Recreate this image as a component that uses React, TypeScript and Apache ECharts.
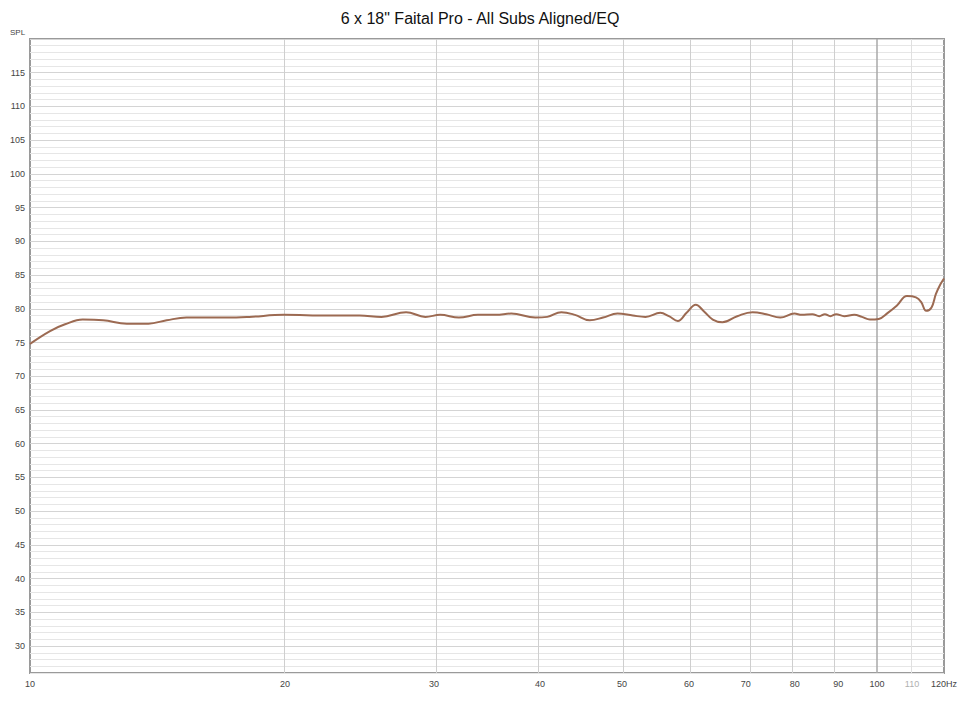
import React, { useEffect, useRef } from "react";
import * as echarts from "echarts";

const TITLE = '6 x 18" Faital Pro - All Subs Aligned/EQ';

// Frequency (Hz) and SPL (dB)
const freqs = [
  10, 10.56, 11.0, 11.54, 12.2, 13.01, 13.8, 14.5, 15.3, 16.15, 17.1, 18.15, 19.95,
  22.5, 24.5, 26.0, 27.8, 29.3, 30.5, 32.1, 33.8, 35.5, 37.0, 39.5, 40.8, 42.4, 44.0,
  45.8, 47.5, 49.4, 51.5, 53.3, 55.5, 56.8, 58.2, 59.6, 61.1, 62.5, 64.0, 65.7, 68.4,
  71.3, 74.0, 76.9, 79.9, 81.5, 83.9, 85.5, 86.8, 88.1, 89.5, 91.5, 94.0, 96.0, 98.1,
  100.5, 103.0, 105.6, 108.5, 111.2, 112.8, 114.3, 116.0, 117.4, 118.8, 120,
];
const spl = [
  74.8, 76.7, 77.7, 78.4, 78.3, 77.8, 77.8, 78.3, 78.7, 78.7, 78.7, 78.8, 79.1,
  79.0, 79.0, 78.8, 79.5, 78.8, 79.1, 78.7, 79.1, 79.1, 79.3, 78.7, 78.8, 79.5, 79.1,
  78.3, 78.7, 79.3, 79.0, 78.8, 79.4, 78.9, 78.2, 79.4, 80.6, 79.6, 78.4, 78.0, 78.9,
  79.5, 79.2, 78.7, 79.3, 79.1, 79.2, 78.9, 79.2, 78.9, 79.2, 78.9, 79.1, 78.8, 78.4,
  78.5, 79.4, 80.5, 81.9, 81.7, 81.0, 79.7, 80.2, 82.2, 83.6, 84.5,
];

// Axis ticks
const xTicks = [10, 20, 30, 40, 50, 60, 70, 80, 90, 100, 110, 120];
const xGridLines = [20, 30, 40, 50, 60, 70, 80, 90, 100, 110];
const yMin = 26;
const yMax = 120;

export default function App() {
  const ref = useRef<HTMLDivElement>(null);

  useEffect(() => {
    if (!ref.current) return;
    const chart = echarts.init(ref.current, null, { renderer: "svg" });
    const lg = (f: number) => Math.log10(f);
    const data = freqs.map((f, i) => [lg(f), spl[i]]);
    const fromLog = (v: number) => Math.round(Math.pow(10, v));

    chart.setOption({
      animation: false,
      backgroundColor: "#ffffff",
      textStyle: { fontFamily: "Liberation Sans, Arial, sans-serif" },
      title: {
        text: TITLE,
        left: "center",
        top: 5,
        textStyle: {
          fontSize: 16,
          fontWeight: "normal",
          color: "#111",
          fontFamily: "Liberation Sans, Arial, sans-serif",
        },
      },
      graphic: [
        {
          type: "text",
          left: 10,
          top: 28,
          style: { text: "SPL", fontSize: 8, fill: "#444", fontFamily: "Liberation Sans, Arial, sans-serif" },
        },
      ],
      grid: {
        left: 30,
        right: 12,
        top: 39,
        bottom: 35,
        show: true,
        borderColor: "#9a9a9a",
        borderWidth: 2,
        backgroundColor: "transparent",
      },
      xAxis: {
        type: "value",
        min: lg(10),
        max: lg(120),
        axisLine: { show: false },
        axisTick: { show: false },
        splitLine: { show: false },
        axisLabel: {
          customValues: xTicks.map(lg),
          fontSize: 9,
          color: "#444",
          margin: 6,
          formatter: (v: number) => {
            const f = fromLog(v);
            if (f === 120) return "120Hz";
            if (f === 110) return "{l|110}";
            return String(f);
          },
          rich: { l: { color: "#b0b0b0", fontSize: 9 } },
        },
      },
      yAxis: {
        type: "value",
        min: yMin,
        max: yMax,
        interval: 1,
        axisLine: { show: false },
        axisTick: { show: false },
        axisLabel: {
          fontSize: 9,
          color: "#444",
          margin: 5,
          formatter: (v: number) => (v % 5 === 0 && v < yMax ? String(v) : ""),
        },
        splitLine: {
          show: true,
          lineStyle: {
            color: ["#e6e6e6", "#e6e6e6", "#e6e6e6", "#e6e6e6", "#d4d4d4"],
            width: 1,
          },
        },
      },
      series: [
        {
          type: "line",
          data,
          smooth: 0.4,
          showSymbol: false,
          symbol: "none",
          lineStyle: { color: "#9c6a52", width: 2 },
          z: 5,
          markLine: {
            silent: true,
            symbol: "none",
            label: { show: false },
            z: 1,
            data: xGridLines.map((f) => ({
              xAxis: lg(f),
              lineStyle: {
                color: f === 100 ? "#a8a8a8" : f === 110 ? "#e0e0e0" : "#cfcfcf",
                width: f === 100 ? 1.5 : 1,
                type: "solid",
              },
            })),
          },
        },
      ],
    });

    return () => chart.dispose();
  }, []);

  return (
    <div
      ref={ref}
      style={{ position: "fixed", left: 0, top: 0, width: 960, height: 708, background: "#fff" }}
    />
  );
}
